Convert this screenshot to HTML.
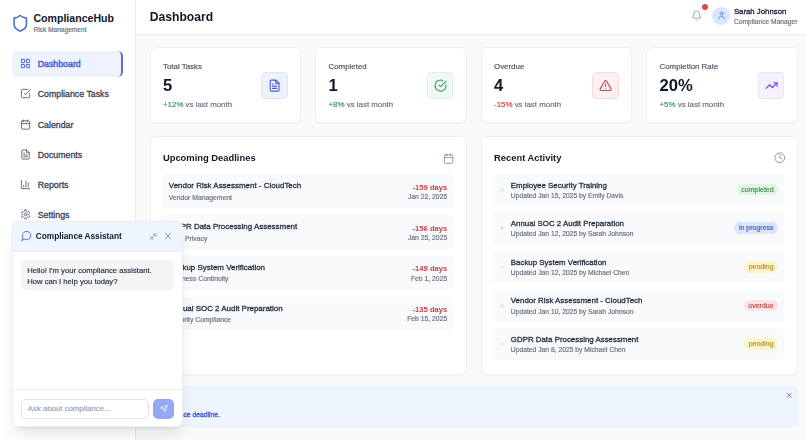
<!DOCTYPE html><html><head><meta charset="utf-8"><style>
html,body{margin:0;padding:0;}
body{width:806px;height:440px;overflow:hidden;position:relative;background:#f9fafb;font-family:"Liberation Sans",sans-serif;}
.t{position:absolute;white-space:nowrap;-webkit-text-stroke-width:0.18px;}
.b{position:absolute;box-sizing:border-box;}
.i{position:absolute;overflow:visible;}
#w{position:absolute;left:0;top:0;width:806px;height:440px;filter:blur(0.3px);}
</style></head><body><div id="w">
<div class="b" style="left:0.00px;top:0.00px;width:136.00px;height:440.00px;background:#fff;border-right:1px solid #e8eaee;"></div>
<svg class="i" style="left:10.88px;top:13.73px;width:18.53px;height:18.53px;" viewBox="0 0 24 24" fill="none" stroke="#4668dc" stroke-width="2" stroke-linecap="round" stroke-linejoin="round"><path d="M20 13c0 5-3.5 7.5-7.66 8.95a1 1 0 0 1-.67-.01C7.5 20.5 4 18 4 13V6a1 1 0 0 1 1-1c2 0 4.5-1.2 6.24-2.72a1.17 1.17 0 0 1 1.52 0C14.51 3.81 17 5 19 5a1 1 0 0 1 1 1z"/></svg>
<div class="t" style="left:33.40px;top:13.13px;font-size:10.6px;line-height:10.6px;color:#111827;font-weight:bold;-webkit-text-stroke-width:0;">ComplianceHub</div>
<div class="t" style="left:33.40px;top:26.61px;font-size:6.6px;line-height:6.6px;color:#6b7280;font-weight:normal;">Risk Management</div>
<div class="b" style="left:11.70px;top:50.90px;width:111.10px;height:26.10px;background:#eef3fe;border-radius:5px;border-right:2px solid #5470d8;"></div>
<svg class="i" style="left:19.98px;top:58.48px;width:11.04px;height:11.04px;" viewBox="0 0 24 24" fill="none" stroke="#3f5fd6" stroke-width="2" stroke-linecap="round" stroke-linejoin="round"><rect x="3" y="3" width="7" height="7" rx="1"/><rect x="14" y="3" width="7" height="7" rx="1"/><rect x="14" y="14" width="7" height="7" rx="1"/><rect x="3" y="14" width="7" height="7" rx="1"/></svg>
<div class="t" style="left:37.70px;top:60.25px;font-size:8.8px;line-height:8.8px;color:#3f5fd6;font-weight:normal;-webkit-text-stroke-width:0.28px;-webkit-text-stroke-width:0.42px;">Dashboard</div>
<svg class="i" style="left:19.98px;top:88.48px;width:11.04px;height:11.04px;" viewBox="0 0 24 24" fill="none" stroke="#5f6673" stroke-width="2" stroke-linecap="round" stroke-linejoin="round"><polyline points="9 11 12 14 22 4"/><path d="M21 12v7a2 2 0 0 1-2 2H5a2 2 0 0 1-2-2V5a2 2 0 0 1 2-2h11"/></svg>
<div class="t" style="left:37.70px;top:90.25px;font-size:8.8px;line-height:8.8px;color:#374151;font-weight:normal;-webkit-text-stroke-width:0.28px;">Compliance Tasks</div>
<svg class="i" style="left:19.98px;top:118.78px;width:11.04px;height:11.04px;" viewBox="0 0 24 24" fill="none" stroke="#5f6673" stroke-width="2" stroke-linecap="round" stroke-linejoin="round"><rect x="3" y="4" width="18" height="18" rx="2"/><line x1="16" y1="2" x2="16" y2="6"/><line x1="8" y1="2" x2="8" y2="6"/><line x1="3" y1="10" x2="21" y2="10"/></svg>
<div class="t" style="left:37.70px;top:120.55px;font-size:8.8px;line-height:8.8px;color:#374151;font-weight:normal;-webkit-text-stroke-width:0.28px;">Calendar</div>
<svg class="i" style="left:19.98px;top:148.88px;width:11.04px;height:11.04px;" viewBox="0 0 24 24" fill="none" stroke="#5f6673" stroke-width="2" stroke-linecap="round" stroke-linejoin="round"><path d="M14.5 2H6a2 2 0 0 0-2 2v16a2 2 0 0 0 2 2h12a2 2 0 0 0 2-2V7.5L14.5 2z"/><polyline points="14 2 14 8 20 8"/><line x1="16" y1="13" x2="8" y2="13"/><line x1="16" y1="17" x2="8" y2="17"/><line x1="10" y1="9" x2="8" y2="9"/></svg>
<div class="t" style="left:37.70px;top:150.65px;font-size:8.8px;line-height:8.8px;color:#374151;font-weight:normal;-webkit-text-stroke-width:0.28px;">Documents</div>
<svg class="i" style="left:19.98px;top:179.08px;width:11.04px;height:11.04px;" viewBox="0 0 24 24" fill="none" stroke="#5f6673" stroke-width="2" stroke-linecap="round" stroke-linejoin="round"><path d="M3 3v18h18"/><path d="M18 17V9"/><path d="M13 17V5"/><path d="M8 17v-3"/></svg>
<div class="t" style="left:37.70px;top:180.85px;font-size:8.8px;line-height:8.8px;color:#374151;font-weight:normal;-webkit-text-stroke-width:0.28px;">Reports</div>
<svg class="i" style="left:19.98px;top:209.08px;width:11.04px;height:11.04px;" viewBox="0 0 24 24" fill="none" stroke="#5f6673" stroke-width="2" stroke-linecap="round" stroke-linejoin="round"><path d="M12.22 2h-.44a2 2 0 0 0-2 2v.18a2 2 0 0 1-1 1.73l-.43.25a2 2 0 0 1-2 0l-.15-.08a2 2 0 0 0-2.73.73l-.22.38a2 2 0 0 0 .73 2.730l.15.1a2 2 0 0 1 1 1.72v.51a2 2 0 0 1-1 1.74l-.15.09a2 2 0 0 0-.73 2.73l.22.38a2 2 0 0 0 2.73.73l.15-.08a2 2 0 0 1 2 0l.43.25a2 2 0 0 1 1 1.73V20a2 2 0 0 0 2 2h.44a2 2 0 0 0 2-2v-.18a2 2 0 0 1 1-1.73l.43-.25a2 2 0 0 1 2 0l.15.08a2 2 0 0 0 2.73-.73l.22-.39a2 2 0 0 0-.73-2.73l-.15-.08a2 2 0 0 1-1-1.74v-.5a2 2 0 0 1 1-1.74l.15-.09a2 2 0 0 0 .73-2.73l-.22-.38a2 2 0 0 0-2.73-.73l-.15.08a2 2 0 0 1-2 0l-.43-.25a2 2 0 0 1-1-1.73V4a2 2 0 0 0-2-2z"/><circle cx="12" cy="12" r="3"/></svg>
<div class="t" style="left:37.70px;top:210.85px;font-size:8.8px;line-height:8.8px;color:#374151;font-weight:normal;-webkit-text-stroke-width:0.28px;">Settings</div>
<div class="b" style="left:136.00px;top:0.00px;width:670.00px;height:34.60px;background:#fff;border-bottom:1px solid #eaecef;"></div>
<div class="t" style="left:149.70px;top:10.72px;font-size:12.15px;line-height:12.15px;color:#111827;font-weight:bold;-webkit-text-stroke-width:0;">Dashboard</div>
<svg class="i" style="left:690.76px;top:10.13px;width:11.28px;height:11.28px;" viewBox="0 0 24 24" fill="none" stroke="#9ca3af" stroke-width="2" stroke-linecap="round" stroke-linejoin="round"><path d="M6 8a6 6 0 0 1 12 0c0 7 3 9 3 9H3s3-2 3-9"/><path d="M10.3 21a1.94 1.94 0 0 0 3.4 0"/></svg>
<div class="b" style="left:701.80px;top:4.10px;width:6.40px;height:6.40px;background:#dc4848;border-radius:50%;"></div>
<div class="b" style="left:712.00px;top:7.00px;width:18.40px;height:18.40px;background:#dbe6fd;border-radius:50%;"></div>
<svg class="i" style="left:716.68px;top:11.24px;width:9.15px;height:9.15px;" viewBox="0 0 24 24" fill="none" stroke="#4a6de5" stroke-width="2" stroke-linecap="round" stroke-linejoin="round"><path d="M19 21v-2a4 4 0 0 0-4-4H9a4 4 0 0 0-4 4v2"/><circle cx="12" cy="7" r="4"/></svg>
<div class="t" style="left:733.90px;top:7.70px;font-size:7.8px;line-height:7.8px;color:#111827;font-weight:normal;-webkit-text-stroke-width:0.28px;-webkit-text-stroke-width:0.26px;">Sarah Johnson</div>
<div class="t" style="left:733.90px;top:18.93px;font-size:6.7px;line-height:6.7px;color:#6b7280;font-weight:normal;">Compliance Manager</div>
<div class="b" style="left:149.80px;top:46.90px;width:151.50px;height:76.20px;background:#fff;border:1px solid #eef0f2;border-radius:6px;box-shadow:0 0.5px 1px rgba(0,0,0,0.04);"></div>
<div class="t" style="left:163.00px;top:63.01px;font-size:7.9px;line-height:7.9px;color:#4b5563;font-weight:normal;">Total Tasks</div>
<div class="t" style="left:163.00px;top:77.65px;font-size:16.6px;line-height:16.6px;color:#111827;font-weight:bold;-webkit-text-stroke-width:0;">5</div>
<div class="t" style="left:163.00px;top:100.51px;font-size:7.9px;line-height:7.9px;color:#6b7280;font-weight:normal;"><span style="color:#3d9a57">+12%</span> <span style="color:#6b7280">vs last month</span></div>
<div class="b" style="left:261.20px;top:71.90px;width:26.80px;height:26.80px;background:#eef2fd;border:1px solid #dfe6f8;border-radius:4px;"></div>
<svg class="i" style="left:268.00px;top:78.70px;width:13.20px;height:13.20px;" viewBox="0 0 24 24" fill="none" stroke="#3f5fd6" stroke-width="2.0" stroke-linecap="round" stroke-linejoin="round"><path d="M14.5 2H6a2 2 0 0 0-2 2v16a2 2 0 0 0 2 2h12a2 2 0 0 0 2-2V7.5L14.5 2z"/><polyline points="14 2 14 8 20 8"/><line x1="16" y1="13" x2="8" y2="13"/><line x1="16" y1="17" x2="8" y2="17"/><line x1="10" y1="9" x2="8" y2="9"/></svg>
<div class="b" style="left:315.30px;top:46.90px;width:151.50px;height:76.20px;background:#fff;border:1px solid #eef0f2;border-radius:6px;box-shadow:0 0.5px 1px rgba(0,0,0,0.04);"></div>
<div class="t" style="left:328.50px;top:63.01px;font-size:7.9px;line-height:7.9px;color:#4b5563;font-weight:normal;">Completed</div>
<div class="t" style="left:328.50px;top:77.65px;font-size:16.6px;line-height:16.6px;color:#111827;font-weight:bold;-webkit-text-stroke-width:0;">1</div>
<div class="t" style="left:328.50px;top:100.51px;font-size:7.9px;line-height:7.9px;color:#6b7280;font-weight:normal;"><span style="color:#3d9a57">+8%</span> <span style="color:#6b7280">vs last month</span></div>
<div class="b" style="left:426.70px;top:71.90px;width:26.80px;height:26.80px;background:#effbf2;border:1px solid #dcf3e2;border-radius:4px;"></div>
<svg class="i" style="left:433.50px;top:78.70px;width:13.20px;height:13.20px;" viewBox="0 0 24 24" fill="none" stroke="#3f9a5a" stroke-width="2.0" stroke-linecap="round" stroke-linejoin="round"><path d="M22 11.08V12a10 10 0 1 1-5.93-9.14"/><polyline points="22 4 12 14.01 9 11.01"/></svg>
<div class="b" style="left:480.80px;top:46.90px;width:151.50px;height:76.20px;background:#fff;border:1px solid #eef0f2;border-radius:6px;box-shadow:0 0.5px 1px rgba(0,0,0,0.04);"></div>
<div class="t" style="left:494.00px;top:63.01px;font-size:7.9px;line-height:7.9px;color:#4b5563;font-weight:normal;">Overdue</div>
<div class="t" style="left:494.00px;top:77.65px;font-size:16.6px;line-height:16.6px;color:#111827;font-weight:bold;-webkit-text-stroke-width:0;">4</div>
<div class="t" style="left:494.00px;top:100.51px;font-size:7.9px;line-height:7.9px;color:#6b7280;font-weight:normal;"><span style="color:#cc3d4a">-15%</span> <span style="color:#6b7280">vs last month</span></div>
<div class="b" style="left:592.20px;top:71.90px;width:26.80px;height:26.80px;background:#fdf0f0;border:1px solid #f6dcdc;border-radius:4px;"></div>
<svg class="i" style="left:599.00px;top:78.70px;width:13.20px;height:13.20px;" viewBox="0 0 24 24" fill="none" stroke="#c8474a" stroke-width="2.0" stroke-linecap="round" stroke-linejoin="round"><path d="m21.73 18-8-14a2 2 0 0 0-3.48 0l-8 14A2 2 0 0 0 4 21h16a2 2 0 0 0 1.73-3Z"/><path d="M12 9v4"/><path d="M12 17h.01"/></svg>
<div class="b" style="left:646.30px;top:46.90px;width:151.50px;height:76.20px;background:#fff;border:1px solid #eef0f2;border-radius:6px;box-shadow:0 0.5px 1px rgba(0,0,0,0.04);"></div>
<div class="t" style="left:659.50px;top:63.01px;font-size:7.9px;line-height:7.9px;color:#4b5563;font-weight:normal;">Completion Rate</div>
<div class="t" style="left:659.50px;top:77.65px;font-size:16.6px;line-height:16.6px;color:#111827;font-weight:bold;-webkit-text-stroke-width:0;">20%</div>
<div class="t" style="left:659.50px;top:100.51px;font-size:7.9px;line-height:7.9px;color:#6b7280;font-weight:normal;"><span style="color:#3d9a57">+5%</span> <span style="color:#6b7280">vs last month</span></div>
<div class="b" style="left:757.70px;top:71.90px;width:26.80px;height:26.80px;background:#f6f1fe;border:1px solid #e9e1f9;border-radius:4px;"></div>
<svg class="i" style="left:764.50px;top:78.70px;width:13.20px;height:13.20px;" viewBox="0 0 24 24" fill="none" stroke="#7c4fd6" stroke-width="2.3" stroke-linecap="round" stroke-linejoin="round"><polyline points="22 7 13.5 15.5 8.5 10.5 2 17"/><polyline points="16 7 22 7 22 13"/></svg>
<div class="b" style="left:149.80px;top:136.40px;width:316.80px;height:238.30px;background:#fff;border:1px solid #eef0f2;border-radius:6px;box-shadow:0 0.5px 1px rgba(0,0,0,0.04);"></div>
<div class="t" style="left:162.90px;top:153.24px;font-size:9.4px;line-height:9.4px;color:#111827;font-weight:bold;-webkit-text-stroke-width:0;">Upcoming Deadlines</div>
<div class="b" style="left:480.90px;top:136.40px;width:316.80px;height:238.30px;background:#fff;border:1px solid #eef0f2;border-radius:6px;box-shadow:0 0.5px 1px rgba(0,0,0,0.04);"></div>
<div class="t" style="left:494.00px;top:153.24px;font-size:9.4px;line-height:9.4px;color:#111827;font-weight:bold;-webkit-text-stroke-width:0;">Recent Activity</div>
<svg class="i" style="left:442.86px;top:152.73px;width:11.28px;height:11.28px;" viewBox="0 0 24 24" fill="none" stroke="#9097a2" stroke-width="2" stroke-linecap="round" stroke-linejoin="round"><rect x="3" y="4" width="18" height="18" rx="2"/><line x1="16" y1="2" x2="16" y2="6"/><line x1="8" y1="2" x2="8" y2="6"/><line x1="3" y1="10" x2="21" y2="10"/></svg>
<svg class="i" style="left:773.61px;top:152.11px;width:11.67px;height:11.67px;" viewBox="0 0 24 24" fill="none" stroke="#9097a2" stroke-width="2" stroke-linecap="round" stroke-linejoin="round"><circle cx="12" cy="12" r="10"/><polyline points="12 6 12 12 16 14"/></svg>
<div class="b" style="left:162.30px;top:174.00px;width:291.10px;height:33.80px;background:#f9fafb;border-radius:4px;"></div>
<div class="t" style="left:168.80px;top:182.28px;font-size:7.94px;line-height:7.94px;color:#1f2937;font-weight:normal;-webkit-text-stroke-width:0.28px;">Vendor Risk Assessment - CloudTech</div>
<div class="t" style="left:168.80px;top:194.74px;font-size:6.8px;line-height:6.8px;color:#6b7280;font-weight:normal;">Vendor Management</div>
<div class="t" style="right:358.80px;top:183.77px;font-size:7.6px;line-height:7.6px;color:#cc3d4a;font-weight:bold;-webkit-text-stroke-width:0;">-159 days</div>
<div class="t" style="right:358.80px;top:193.84px;font-size:6.8px;line-height:6.8px;color:#6b7280;font-weight:normal;">Jan 22, 2025</div>
<div class="b" style="left:162.30px;top:214.85px;width:291.10px;height:33.80px;background:#f9fafb;border-radius:4px;"></div>
<div class="t" style="left:168.80px;top:223.13px;font-size:7.94px;line-height:7.94px;color:#1f2937;font-weight:normal;-webkit-text-stroke-width:0.28px;">GDPR Data Processing Assessment</div>
<div class="t" style="left:168.80px;top:235.59px;font-size:6.8px;line-height:6.8px;color:#6b7280;font-weight:normal;">Data Privacy</div>
<div class="t" style="right:358.80px;top:224.62px;font-size:7.6px;line-height:7.6px;color:#cc3d4a;font-weight:bold;-webkit-text-stroke-width:0;">-156 days</div>
<div class="t" style="right:358.80px;top:234.69px;font-size:6.8px;line-height:6.8px;color:#6b7280;font-weight:normal;">Jan 25, 2025</div>
<div class="b" style="left:162.30px;top:255.70px;width:291.10px;height:33.80px;background:#f9fafb;border-radius:4px;"></div>
<div class="t" style="left:168.80px;top:263.98px;font-size:7.94px;line-height:7.94px;color:#1f2937;font-weight:normal;-webkit-text-stroke-width:0.28px;">Backup System Verification</div>
<div class="t" style="left:168.80px;top:276.44px;font-size:6.8px;line-height:6.8px;color:#6b7280;font-weight:normal;">Business Continuity</div>
<div class="t" style="right:358.80px;top:265.47px;font-size:7.6px;line-height:7.6px;color:#cc3d4a;font-weight:bold;-webkit-text-stroke-width:0;">-149 days</div>
<div class="t" style="right:358.80px;top:275.54px;font-size:6.8px;line-height:6.8px;color:#6b7280;font-weight:normal;">Feb 1, 2025</div>
<div class="b" style="left:162.30px;top:296.55px;width:291.10px;height:33.80px;background:#f9fafb;border-radius:4px;"></div>
<div class="t" style="left:168.80px;top:304.83px;font-size:7.94px;line-height:7.94px;color:#1f2937;font-weight:normal;-webkit-text-stroke-width:0.28px;">Annual SOC 2 Audit Preparation</div>
<div class="t" style="left:168.80px;top:317.29px;font-size:6.8px;line-height:6.8px;color:#6b7280;font-weight:normal;">Security Compliance</div>
<div class="t" style="right:358.80px;top:306.32px;font-size:7.6px;line-height:7.6px;color:#cc3d4a;font-weight:bold;-webkit-text-stroke-width:0;">-135 days</div>
<div class="t" style="right:358.80px;top:316.39px;font-size:6.8px;line-height:6.8px;color:#6b7280;font-weight:normal;">Feb 15, 2025</div>
<div class="b" style="left:493.30px;top:173.80px;width:291.50px;height:31.90px;background:#f9fafb;border-radius:4px;"></div>
<div class="b" style="left:500.00px;top:187.60px;width:4.00px;height:4.00px;background:#dcf3e2;border-radius:50%;"></div>
<div class="t" style="left:510.80px;top:181.51px;font-size:7.9px;line-height:7.9px;color:#1f2937;font-weight:normal;-webkit-text-stroke-width:0.28px;">Employee Security Training</div>
<div class="t" style="left:510.80px;top:192.79px;font-size:6.75px;line-height:6.75px;color:#6b7280;font-weight:normal;">Updated Jan 15, 2025 by Emily Davis</div>
<div class="b" style="right:27.80px;top:183.60px;height:11.8px;padding:0 4.6px;border-radius:6px;background:#e0f6e4;color:#468f58;font-size:7px;line-height:11.8px;-webkit-text-stroke:0.2px #468f58;white-space:nowrap;">completed</div>
<div class="b" style="left:493.30px;top:212.45px;width:291.50px;height:31.90px;background:#f9fafb;border-radius:4px;"></div>
<div class="b" style="left:500.00px;top:226.25px;width:4.00px;height:4.00px;background:#dde5f5;border-radius:50%;"></div>
<div class="t" style="left:510.80px;top:220.16px;font-size:7.9px;line-height:7.9px;color:#1f2937;font-weight:normal;-webkit-text-stroke-width:0.28px;">Annual SOC 2 Audit Preparation</div>
<div class="t" style="left:510.80px;top:231.44px;font-size:6.75px;line-height:6.75px;color:#6b7280;font-weight:normal;">Updated Jan 12, 2025 by Sarah Johnson</div>
<div class="b" style="right:27.80px;top:222.25px;height:11.8px;padding:0 4.6px;border-radius:6px;background:#dce6fb;color:#3a5fcc;font-size:7px;line-height:11.8px;-webkit-text-stroke:0.2px #3a5fcc;white-space:nowrap;">in progress</div>
<div class="b" style="left:493.30px;top:251.10px;width:291.50px;height:31.90px;background:#f9fafb;border-radius:4px;"></div>
<div class="b" style="left:500.00px;top:264.90px;width:4.00px;height:4.00px;background:#f6f2c9;border-radius:50%;"></div>
<div class="t" style="left:510.80px;top:258.81px;font-size:7.9px;line-height:7.9px;color:#1f2937;font-weight:normal;-webkit-text-stroke-width:0.28px;">Backup System Verification</div>
<div class="t" style="left:510.80px;top:270.09px;font-size:6.75px;line-height:6.75px;color:#6b7280;font-weight:normal;">Updated Jan 12, 2025 by Michael Chen</div>
<div class="b" style="right:27.80px;top:260.90px;height:11.8px;padding:0 4.6px;border-radius:6px;background:#fcf5cb;color:#b5932c;font-size:7px;line-height:11.8px;-webkit-text-stroke:0.2px #b5932c;white-space:nowrap;">pending</div>
<div class="b" style="left:493.30px;top:289.75px;width:291.50px;height:31.90px;background:#f9fafb;border-radius:4px;"></div>
<div class="b" style="left:500.00px;top:303.55px;width:4.00px;height:4.00px;background:#f7e1e1;border-radius:50%;"></div>
<div class="t" style="left:510.80px;top:297.46px;font-size:7.9px;line-height:7.9px;color:#1f2937;font-weight:normal;-webkit-text-stroke-width:0.28px;">Vendor Risk Assessment - CloudTech</div>
<div class="t" style="left:510.80px;top:308.74px;font-size:6.75px;line-height:6.75px;color:#6b7280;font-weight:normal;">Updated Jan 10, 2025 by Sarah Johnson</div>
<div class="b" style="right:27.80px;top:299.55px;height:11.8px;padding:0 4.6px;border-radius:6px;background:#fbe3e4;color:#c24b4f;font-size:7px;line-height:11.8px;-webkit-text-stroke:0.2px #c24b4f;white-space:nowrap;">overdue</div>
<div class="b" style="left:493.30px;top:328.40px;width:291.50px;height:31.90px;background:#f9fafb;border-radius:4px;"></div>
<div class="b" style="left:500.00px;top:342.20px;width:4.00px;height:4.00px;background:#f6f2c9;border-radius:50%;"></div>
<div class="t" style="left:510.80px;top:336.11px;font-size:7.9px;line-height:7.9px;color:#1f2937;font-weight:normal;-webkit-text-stroke-width:0.28px;">GDPR Data Processing Assessment</div>
<div class="t" style="left:510.80px;top:347.39px;font-size:6.75px;line-height:6.75px;color:#6b7280;font-weight:normal;">Updated Jan 8, 2025 by Michael Chen</div>
<div class="b" style="right:27.80px;top:338.20px;height:11.8px;padding:0 4.6px;border-radius:6px;background:#fcf5cb;color:#b5932c;font-size:7px;line-height:11.8px;-webkit-text-stroke:0.2px #b5932c;white-space:nowrap;">pending</div>
<div class="b" style="left:149.80px;top:386.40px;width:647.80px;height:40.20px;background:#eff5fe;border:1px solid #ecf2fd;border-radius:5px;"></div>
<div class="t" style="right:586.10px;top:411.89px;font-size:6.75px;line-height:6.75px;color:#3a56c8;font-weight:normal;-webkit-text-stroke-width:0.28px;">You have an upcoming compliance deadline.</div>
<svg class="i" style="left:785.23px;top:390.63px;width:8.55px;height:8.55px;" viewBox="0 0 24 24" fill="none" stroke="#6377c8" stroke-width="2.6" stroke-linecap="round" stroke-linejoin="round"><path d="M18 6 6 18"/><path d="m6 6 12 12"/></svg>
<div class="b" style="left:11.60px;top:221.00px;width:171.30px;height:206.00px;background:#fff;border:1px solid #eceef1;border-radius:6px;box-shadow:0 10px 16px -3px rgba(0,0,0,0.10),0 4px 6px -4px rgba(0,0,0,0.10);overflow:hidden;"></div>
<div class="b" style="left:12.60px;top:222.00px;width:169.30px;height:29.60px;background:#eff5ff;border-bottom:1px solid #e8ecf2;border-radius:5px 5px 0 0;"></div>
<svg class="i" style="left:20.53px;top:230.37px;width:11.20px;height:11.20px;" viewBox="0 0 24 24" fill="none" stroke="#4f67d0" stroke-width="2" stroke-linecap="round" stroke-linejoin="round"><path d="M7.9 20A9 9 0 1 0 4 16.1L2 22Z"/></svg>
<div class="t" style="left:35.80px;top:233.12px;font-size:8.25px;line-height:8.25px;color:#111827;font-weight:bold;-webkit-text-stroke-width:0;">Compliance Assistant</div>
<svg class="i" style="left:148.55px;top:231.95px;width:8.71px;height:8.71px;" viewBox="0 0 24 24" fill="none" stroke="#8f959f" stroke-width="2.4" stroke-linecap="round" stroke-linejoin="round"><polyline points="4 14 10 14 10 20"/><polyline points="20 10 14 10 14 4"/><line x1="14" y1="10" x2="21" y2="3"/><line x1="3" y1="21" x2="10" y2="14"/></svg>
<svg class="i" style="left:162.80px;top:231.20px;width:10.00px;height:10.00px;" viewBox="0 0 24 24" fill="none" stroke="#8f959f" stroke-width="2.4" stroke-linecap="round" stroke-linejoin="round"><path d="M18 6 6 18"/><path d="m6 6 12 12"/></svg>
<div class="b" style="left:20.90px;top:260.10px;width:153.50px;height:30.00px;background:#f3f4f6;border-radius:5px;"></div>
<div class="t" style="left:27.20px;top:266.68px;font-size:7.7px;line-height:7.7px;color:#2b3442;font-weight:normal;">Hello! I&#39;m your compliance assistant.</div>
<div class="t" style="left:27.20px;top:277.92px;font-size:7.66px;line-height:7.66px;color:#2b3442;font-weight:normal;">How can I help you today?</div>
<div class="b" style="left:12.80px;top:389.00px;width:169.10px;height:0.80px;background:#eceef1;"></div>
<div class="b" style="left:20.90px;top:398.70px;width:127.80px;height:20.10px;background:#fff;border:1px solid #e1e4e8;border-radius:5px;"></div>
<div class="t" style="left:27.80px;top:404.70px;font-size:7.8px;line-height:7.8px;color:#9ca3af;font-weight:normal;">Ask about compliance...</div>
<div class="b" style="left:153.00px;top:398.70px;width:21.10px;height:20.10px;background:#93a8f2;border-radius:5px;"></div>
<svg class="i" style="left:159.67px;top:404.97px;width:7.85px;height:7.85px;" viewBox="0 0 24 24" fill="none" stroke="#ffffff" stroke-width="2" stroke-linecap="round" stroke-linejoin="round"><path d="m22 2-7 20-4-9-9-4Z"/><path d="M22 2 11 13"/></svg>
</div></body></html>
